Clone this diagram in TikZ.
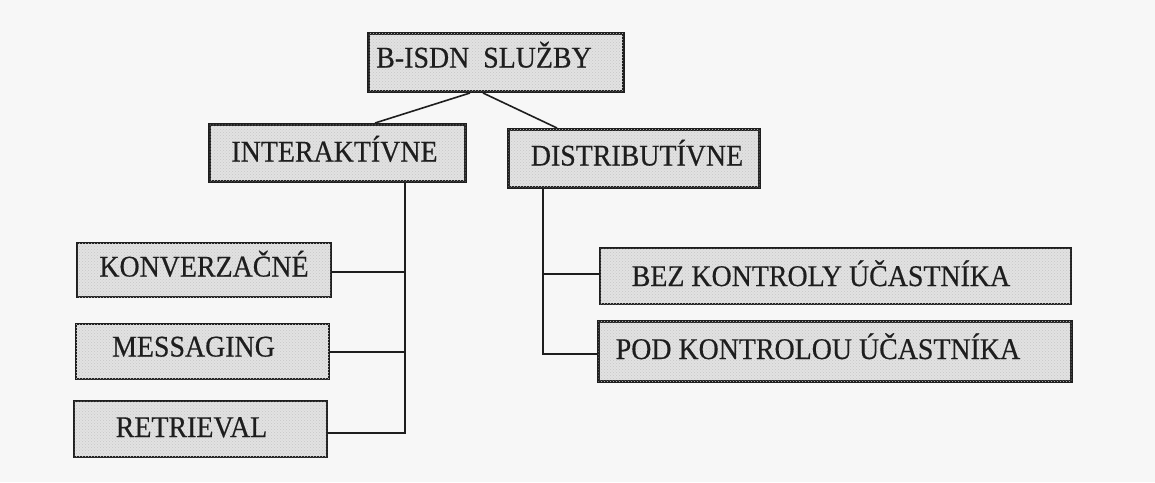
\documentclass[tikz,border=0pt]{standalone}
\usepackage{fontspec}
\setmainfont{Liberation Serif}[FakeBold=0.5]
\usetikzlibrary{patterns,calc}
\definecolor{ink}{HTML}{1E1E1E}
\definecolor{paper}{HTML}{F7F7F7}
\definecolor{stipple}{HTML}{E2E2E2}
% label text: horizontal shift, vertical raise, slightly condensed serif caps
\newcommand{\boxlabel}[3]{\makebox[0pt]{\hspace{#1pt}\raisebox{#2pt}{\scalebox{0.93}[1]{#3}}}}
\begin{document}
\begin{tikzpicture}[x=1pt,y=-1pt,
  service/.style={draw=ink, fill=stipple, text=ink, rectangle, inner sep=0pt,
    font=\fontsize{30}{32}\selectfont, text height=20pt, text depth=0pt,
    postaction={pattern=crosshatch dots, pattern color=black!22}},
  heavy/.style={service, line width=3pt},
  light/.style={service, line width=1.8pt},
  link/.style={draw=ink, line width=1.6pt}]
\useasboundingbox[fill=paper] (0,0) rectangle (1155,482);

% top level
\node[heavy, minimum width=255, minimum height=58] (root) at (496,62.5)
  {\boxlabel{-24}{5}{B-ISDN\ \ SLUŽBY}};

% second level
\node[heavy, minimum width=256, minimum height=57] (inter) at (337.5,153)
  {\boxlabel{-6}{1.5}{INTERAKTÍVNE}};
\node[heavy, minimum width=251, minimum height=58] (distr) at (634,158.5)
  {\boxlabel{6}{3}{DISTRIBUTÍVNE}};

% interactive services
\node[light, minimum width=254, minimum height=54] (konv) at (204,270)
  {\boxlabel{0}{3.5}{KONVERZAČNÉ}};
\node[light, minimum width=253, minimum height=55] (mess) at (202.5,351.5)
  {\boxlabel{-18}{5}{MESSAGING}};
\node[light, minimum width=253, minimum height=56] (retr) at (200.5,429)
  {\boxlabel{-18}{2}{RETRIEVAL}};

% distributive services
\node[light, line width=2pt, minimum width=471, minimum height=56] (bez) at (835.5,276)
  {\boxlabel{-29}{0}{BEZ KONTROLY ÚČASTNÍKA}};
\node[light, line width=2.4pt, minimum width=473, minimum height=60] (pod) at (835,351.5)
  {\boxlabel{-34}{2.5}{POD KONTROLOU ÚČASTNÍKA}};

% tree connectors
\draw[link] ([xshift=-26pt]root.south) -- ([xshift=37.5pt]inter.north);
\draw[link] ([xshift=-13pt]root.south) -- ([xshift=-77pt]distr.north);

\coordinate (ibus) at ([xshift=67.5pt]inter.south);
\draw[link] (ibus) |- ([yshift=-4pt]retr.east);
\draw[link] ([yshift=-2pt]konv.east) -- ([yshift=-2pt]konv.east -| ibus);
\draw[link] ([yshift=-0.5pt]mess.east) -- ([yshift=-0.5pt]mess.east -| ibus);

\coordinate (dbus) at ([xshift=-91pt]distr.south);
\draw[link] (dbus) |- ([yshift=-2.5pt]pod.west);
\draw[link] ([yshift=2pt]bez.west) -- ([yshift=2pt]bez.west -| dbus);
\end{tikzpicture}
\end{document}
